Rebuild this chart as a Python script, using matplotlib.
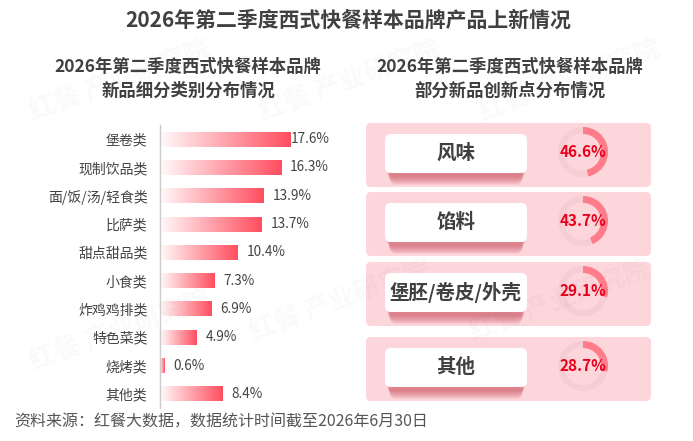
import numpy as np
import matplotlib.pyplot as plt
from matplotlib.patches import FancyBboxPatch, Wedge

plt.rcParams['font.family'] = ['Noto Sans CJK SC', 'DejaVu Sans']

# data
categories = ['堡卷类', '现制饮品类', '面/饭/汤/轻食类', '比萨类', '甜点甜品类',
              '小食类', '炸鸡鸡排类', '特色菜类', '烧烤类', '其他类']
shares = [17.6, 16.3, 13.9, 13.7, 10.4, 7.3, 6.9, 4.9, 0.6, 8.4]
innov_labels = ['风味', '馅料', '堡胚/卷皮/外壳', '其他']
innov_shares = [46.6, 43.7, 29.1, 28.7]

W, H = 693, 441
fig = plt.figure(figsize=(W / 100, H / 100), dpi=100)
fig.patch.set_facecolor('white')

# full-figure pixel axes for decorations
bg = fig.add_axes([0, 0, 1, 1])
bg.set_xlim(0, W)
bg.set_ylim(H, 0)
bg.axis('off')

# faint watermarks
for (wx, wy) in [(120, 80), (350, 80), (570, 80), (120, 330), (340, 300), (560, 300)]:
    bg.text(wx, wy, '红餐 产业研究院', fontsize=19, color='#000000', alpha=0.025,
            rotation=20, ha='center', va='center', fontweight='bold')

dark = '#404040'
bg.text(348, 20, '2026年第二季度西式快餐样本品牌产品上新情况', fontsize=15,
        fontweight='bold', color=dark, ha='center', va='center')
bg.text(188, 67, '2026年第二季度西式快餐样本品牌', fontsize=12.5, fontweight='bold',
        color=dark, ha='center', va='center')
bg.text(188, 91, '新品细分类别分布情况', fontsize=12.5, fontweight='bold',
        color=dark, ha='center', va='center')
bg.text(510, 67, '2026年第二季度西式快餐样本品牌', fontsize=12.5, fontweight='bold',
        color=dark, ha='center', va='center')
bg.text(510, 91, '部分新品创新点分布情况', fontsize=12.5, fontweight='bold',
        color=dark, ha='center', va='center')
bg.text(14, 422, '资料来源：红餐大数据，数据统计时间截至2026年6月30日', fontsize=11.5,
        color='#555555', ha='left', va='center')

# right panel: innovation cards
card_tops = [123, 192, 262, 337]
card_h = 64
for top, lab, val in zip(card_tops, innov_labels, innov_shares):
    card = FancyBboxPatch((366, top), 285, card_h, boxstyle='round,pad=0,rounding_size=5',
                          fc='#fdd6db', ec='none', zorder=1)
    bg.add_patch(card)
    bx, by, bw, bh = 385, top + 11, 142, 39
    # soft red shadow under white label box
    for k in range(9):
        sh = FancyBboxPatch((bx + 2 + k * 0.4, by + 4 + k * 1.0), bw - 4 - k * 0.8, bh,
                            boxstyle='round,pad=0,rounding_size=6',
                            fc='#c23c4b', ec='none', alpha=0.08, zorder=2)
        bg.add_patch(sh)
    box = FancyBboxPatch((bx, by), bw, bh, boxstyle='round,pad=0,rounding_size=6',
                         fc='white', ec='none', zorder=3)
    bg.add_patch(box)
    bg.text(bx + bw / 2, by + bh / 2, lab, fontsize=14, fontweight='bold',
            color=dark, ha='center', va='center', zorder=4)
    # ring
    cx, cy, r = 583, top + 29, 25
    bg.add_patch(Wedge((cx, cy), r, 0, 360, width=6, fc='#f6cdd2', ec='none', zorder=2))
    # y axis is inverted, so angles run clockwise on screen
    bg.add_patch(Wedge((cx, cy), r, 270, 270 + val / 100 * 360, width=7,
                       fc='#ff7d8a', ec='none', zorder=3))
    bg.text(cx, cy, f'{val}%', fontsize=11, fontweight='bold', color='#e8001c',
            ha='center', va='center', zorder=4)

# left panel: bar chart
px_per_pct = 7.44
ax_left, ax_top, ax_w, ax_h = 160, 125, 200, 283
ax = fig.add_axes([ax_left / W, 1 - (ax_top + ax_h) / H, ax_w / W, ax_h / H])
ax.set_facecolor('none')

bar_h = 0.53
grad = np.zeros((1, 256, 4))
grad[..., 0] = 1.0
grad[..., 1] = 0x4d / 255
grad[..., 2] = 0x5e / 255
grad[..., 3] = np.linspace(0.03, 1.0, 256)
ypos = np.arange(len(categories))
label_cap = max(shares)
for y, v in zip(ypos, shares):
    ax.imshow(grad, extent=(0, v, y + bar_h / 2, y - bar_h / 2), aspect='auto',
              interpolation='bilinear', zorder=2)
    ax.text(min(v + 1.2, label_cap), y, f'{v}%', fontsize=9.8, color='#444444',
            ha='left', va='center')
ax.set_xlim(0, ax_w / px_per_pct)
ax.set_ylim(len(categories) - 0.5, -0.5)

ax.set_yticks(ypos)
ax.set_yticklabels(categories, fontsize=10, color='#444444')
ax.tick_params(axis='y', length=0, pad=9)
ax.set_xticks([])
for s in ['top', 'right', 'bottom']:
    ax.spines[s].set_visible(False)
ax.spines['left'].set_color('#cccccc')
ax.spines['left'].set_linewidth(1)

fig.savefig('out.png', dpi=100)
